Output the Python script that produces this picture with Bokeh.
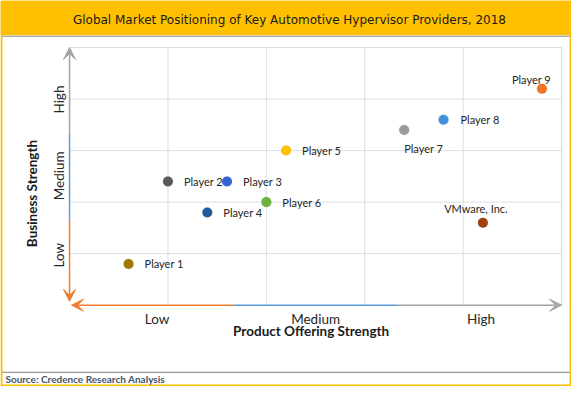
import math
from bokeh.plotting import figure
from bokeh.models import Label, Arrow, VeeHead, ColumnDataSource, CDSView, IndexFilter
from bokeh.core.properties import value
from bokeh.embed import file_html
from bokeh.resources import INLINE

# ---------------- data ----------------
players = ["Player 1", "Player 2", "Player 3", "Player 4", "Player 5",
           "Player 6", "Player 7", "Player 8", "Player 9", "VMware, Inc."]
product_strength = [0.6, 1.0, 1.6, 1.4, 2.2, 2.0, 3.4, 3.8, 4.8, 4.2]
business_strength = [0.8, 2.4, 2.4, 1.8, 3.0, 2.0, 3.4, 3.6, 4.2, 1.6]
colors = ["#A07A00", "#595959", "#3465D4", "#1F5C99", "#FFC000",
          "#6DB33F", "#9B9B9B", "#4590DA", "#F47321", "#A0400A"]

x_levels = ["Low", "Medium", "High"]
x_level_pos = [0.89, 2.50, 4.18]
y_levels = ["Low", "Medium", "High"]
y_level_pos = [0.97, 2.51, 3.99]
grid_ticks = [1, 2, 3, 4, 5]

title_text = "Global Market Positioning of Key Automotive Hypervisor Providers, 2018"
x_title = "Product Offering Strength"
y_title = "Business Strength"
source_text = "Source: Credence Research Analysis"

# ---------------- layout helpers ----------------
REF_W, REF_H = 579, 394
W, H = 571, 386
X0_PX, X5_PX = 70, 569
Y0_PX, Y5_PX = 311, 48
ux = 5.0 / (X5_PX - X0_PX)
uy = 5.0 / (Y0_PX - Y5_PX)


def DX(rx):
    return (rx - X0_PX) * ux


def DY(ry):
    return (Y0_PX - ry) * uy


p = figure(width=W, height=H,
           x_range=(DX(0), DX(REF_W)), y_range=(DY(REF_H), DY(0)),
           output_backend="svg", toolbar_location=None,
           x_axis_location=None, y_axis_location=None,
           min_border=0)
p.grid.visible = False
p.outline_line_color = None
p.background_fill_color = "white"
p.border_fill_color = "white"

# frame decorations
p.quad(left=DX(0), right=DX(REF_W), top=DY(0), bottom=DY(35.5),
       fill_color="#FFC000", line_color=None)
p.segment(x0=DX(1), x1=DX(578), y0=DY(36.5), y1=DY(36.5),
          line_color="#8C8C8C", line_width=1)
p.segment(x0=DX(1), x1=DX(578), y0=DY(379.5), y1=DY(379.5),
          line_color="#7F7F7F", line_width=1)
p.quad(left=DX(1), right=DX(578), top=DY(1), bottom=DY(393),
       fill_color=None, line_color="#FFC000", line_width=2)

# grid
p.segment(x0=grid_ticks, x1=grid_ticks, y0=[0] * len(grid_ticks), y1=[5] * len(grid_ticks),
          line_color="#D9DEE5", line_width=1)
p.segment(x0=[0] * len(grid_ticks), x1=[5] * len(grid_ticks), y0=grid_ticks, y1=grid_ticks,
          line_color="#D9DEE5", line_width=1)

# axes as coloured arrows
ORANGE, BLUE, GRAY = "#ED7D31", "#5B9BD5", "#A5A5A5"
third1, third2 = 5.0 / 3, 10.0 / 3
p.segment(x0=[0], x1=[0], y0=[third1], y1=[third2], line_color=BLUE, line_width=1.5)
p.segment(x0=[third1], x1=[third2], y0=[0], y1=[0], line_color=BLUE, line_width=1.5)
for (xs, ys, xe, ye, c) in [
    (0, third2, 0, 5.0, GRAY),
    (0, third1, 0, DY(307), ORANGE),
    (third1, 0, DX(72), 0, ORANGE),
    (third2, 0, 5.0, 0, GRAY),
]:
    p.add_layout(Arrow(end=VeeHead(size=12, fill_color=c, line_color=c, line_width=1),
                       x_start=xs, y_start=ys, x_end=xe, y_end=ye,
                       line_color=c, line_width=1.5))

# points
src = ColumnDataSource(dict(
    x=product_strength, y=business_strength, name=players, color=colors,
    dx=[16, 16, 16, 16, 16, 16, 0, 17, 9, -7],
    dy=[0, 0, 0, 0, 0, 0, 19, 0, -9, -14],
))
p.scatter("x", "y", source=src, size=11, fill_color="#000000", fill_alpha=0.08,
          line_color=None)
p.scatter("x", "y", source=src, size=10, fill_color="color", line_color=None)

groups = {"left": [0, 1, 2, 3, 4, 5, 6, 7], "right": [8], "center": [9]}
for align, idx in groups.items():
    p.text("x", "y", text="name", source=src, view=CDSView(filter=IndexFilter(idx)),
           x_offset="dx", y_offset="dy", text_align=align, text_baseline="middle",
           text_font=value("Lato"), text_font_size="11px", text_color="#262626")

# category labels
p.text(x=x_level_pos, y=[DY(325)] * 3, text=x_levels, text_align="center",
       text_baseline="middle", text_font=value("Lato"), text_font_size="13.5px",
       text_color="#262626")
p.text(x=[DX(59)] * 3, y=y_level_pos, text=y_levels, angle=math.pi / 2,
       text_align="center", text_baseline="middle", text_font=value("Lato"),
       text_font_size="13.5px", text_color="#262626")

# titles
p.add_layout(Label(x=DX(315), y=DY(337), text=x_title, text_align="center",
                   text_baseline="middle", text_font="Lato", text_font_style="bold",
                   text_font_size="13.5px", text_color="#1A1A1A"))
p.add_layout(Label(x=DX(32), y=DY(197), text=y_title, angle=math.pi / 2,
                   text_align="center", text_baseline="middle", text_font="Lato",
                   text_font_style="bold", text_font_size="13.5px", text_color="#1A1A1A"))
p.add_layout(Label(x=DX(293), y=DY(19.5), text=title_text, text_align="center",
                   text_baseline="middle", text_font="DejaVu Sans",
                   text_font_size="12px", text_color="#1A1A1A"))
p.add_layout(Label(x=DX(5), y=DY(386.5), text=source_text, text_align="left",
                   text_baseline="middle", text_font="Lato", text_font_style="bold",
                   text_font_size="10px", text_color="#44546A"))

open("out.html", "w").write(file_html(p, INLINE))
